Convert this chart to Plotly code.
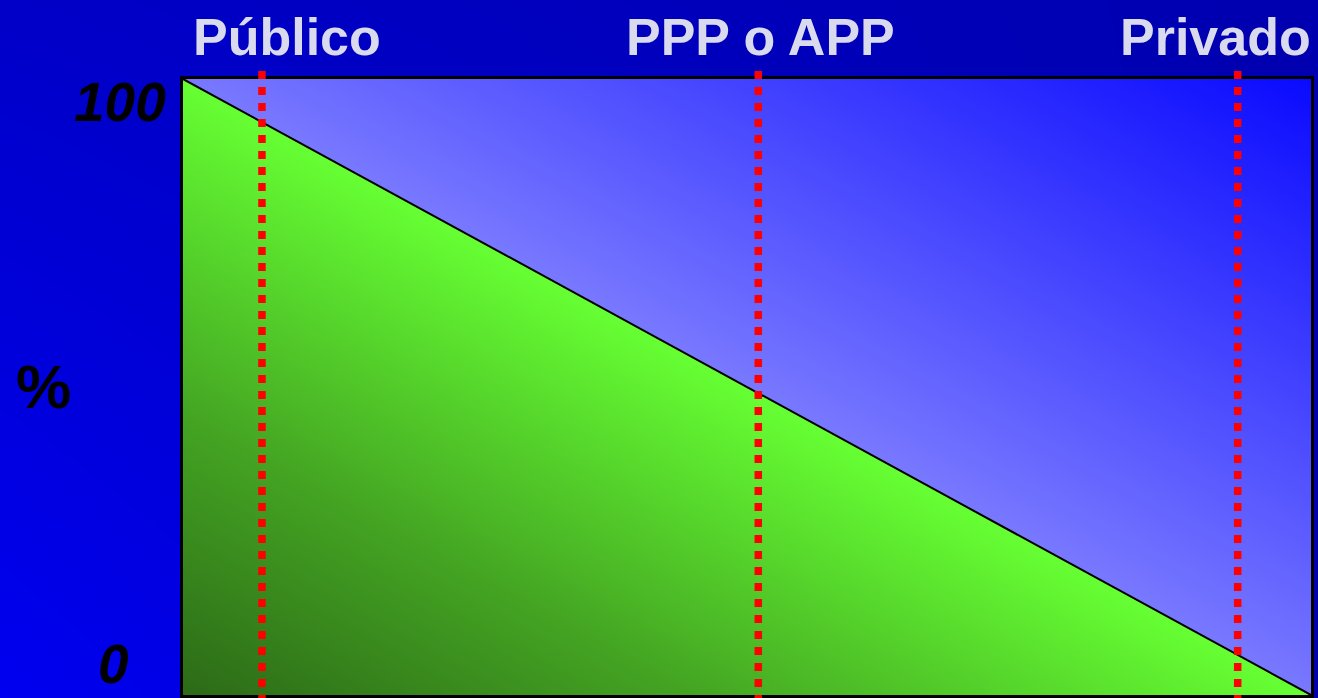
import plotly.graph_objects as go

# ---- data ----
share_x = [0, 100]            # position along the public -> private axis
public_share = [100, 0]       # % public participation (diagonal)
categories = ["Público", "PPP o APP", "Privado"]
category_pos = [7.0, 51.0, 93.5]
label_shift = [25, 2, -22]
y_ticks = [100, 0]
y_tick_labels = ["100", "0"]

W, H = 1318, 698
x_dom = [183 / W, 1311 / W]
y_dom = [1 - 695 / H, 1 - 79 / H]

fig = go.Figure()

# background gradient (full paper)
fig.add_trace(go.Heatmap(
    x=[0, 1], y=[0, 1], z=[[0.95, 0.05], [0.42, 0.10]],
    zmin=0, zmax=1, zsmooth="best", showscale=False, hoverinfo="skip",
    colorscale=[[0, "#0000A8"], [1, "#0000F4"]],
    xaxis="x", yaxis="y"))

# triangles gradient: z<0 green (public), z>0 blue (private)
fig.add_trace(go.Heatmap(
    x=share_x, y=share_x,
    z=[[-1, 0], [0, 1]],
    zmin=-1, zmax=1, zsmooth="best", showscale=False, hoverinfo="skip",
    colorscale=[[0, "#2C6A17"], [0.22, "#43A222"], [0.5, "#66FF33"],
                [0.5, "#7878FF"], [1, "#0A0AFF"]],
    xaxis="x2", yaxis="y2"))

# diagonal
fig.add_trace(go.Scatter(
    x=share_x, y=public_share, mode="lines",
    line=dict(color="black", width=2), hoverinfo="skip",
    xaxis="x2", yaxis="y2"))

shapes = []
for p in category_pos:
    shapes.append(dict(type="line", xref="x2", yref="paper",
                       x0=p, x1=p, y0=1 - 71 / H, y1=-0.02,
                       line=dict(color="#FF0000", width=7.5, dash="8px,8px")))

annotations = []
for c, p, s in zip(categories, category_pos, label_shift):
    annotations.append(dict(text=c, x=p, xref="x2", y=1 - 37 / H, yref="paper",
                            xshift=s, showarrow=False, xanchor="center", yanchor="middle",
                            font=dict(family="Liberation Sans", size=52, color="#DADAEE",
                                      weight="bold")))
tick_px = {100: (168, 102), 0: (131, 664)}
for v, t in zip(y_ticks, y_tick_labels):
    px, py = tick_px[v]
    annotations.append(dict(text=t, x=px / W, xref="paper", y=1 - py / H, yref="paper",
                            showarrow=False, xanchor="right", yanchor="middle",
                            font=dict(family="Liberation Sans", size=55, color="black",
                                      weight="bold", style="italic")))
annotations.append(dict(text="%", x=43 / W, xref="paper", y=1 - 386 / H, yref="paper",
                        showarrow=False, xanchor="center", yanchor="middle",
                        font=dict(family="Liberation Sans", size=62, color="black",
                                  weight="bold")))

fig.update_layout(
    width=W, height=H, margin=dict(l=0, r=0, t=0, b=0),
    paper_bgcolor="#0000C8", plot_bgcolor="rgba(0,0,0,0)",
    showlegend=False,
    xaxis=dict(domain=[0, 1], range=[0, 1], visible=False, fixedrange=True),
    yaxis=dict(domain=[0, 1], range=[0, 1], visible=False, fixedrange=True),
    xaxis2=dict(domain=x_dom, range=[0, 100], anchor="y2", showgrid=False, zeroline=False,
                showticklabels=False, ticks="", showline=True, mirror=True,
                linecolor="black", linewidth=2.5),
    yaxis2=dict(domain=y_dom, range=[0, 100], anchor="x2", showgrid=False, zeroline=False,
                showticklabels=False, ticks="", showline=True, mirror=True,
                linecolor="black", linewidth=2.5),
    shapes=shapes, annotations=annotations,
)

fig.write_html("out.html", config={"displayModeBar": False},
               post_script="document.body.style.margin='0';document.body.style.overflow='hidden';")
